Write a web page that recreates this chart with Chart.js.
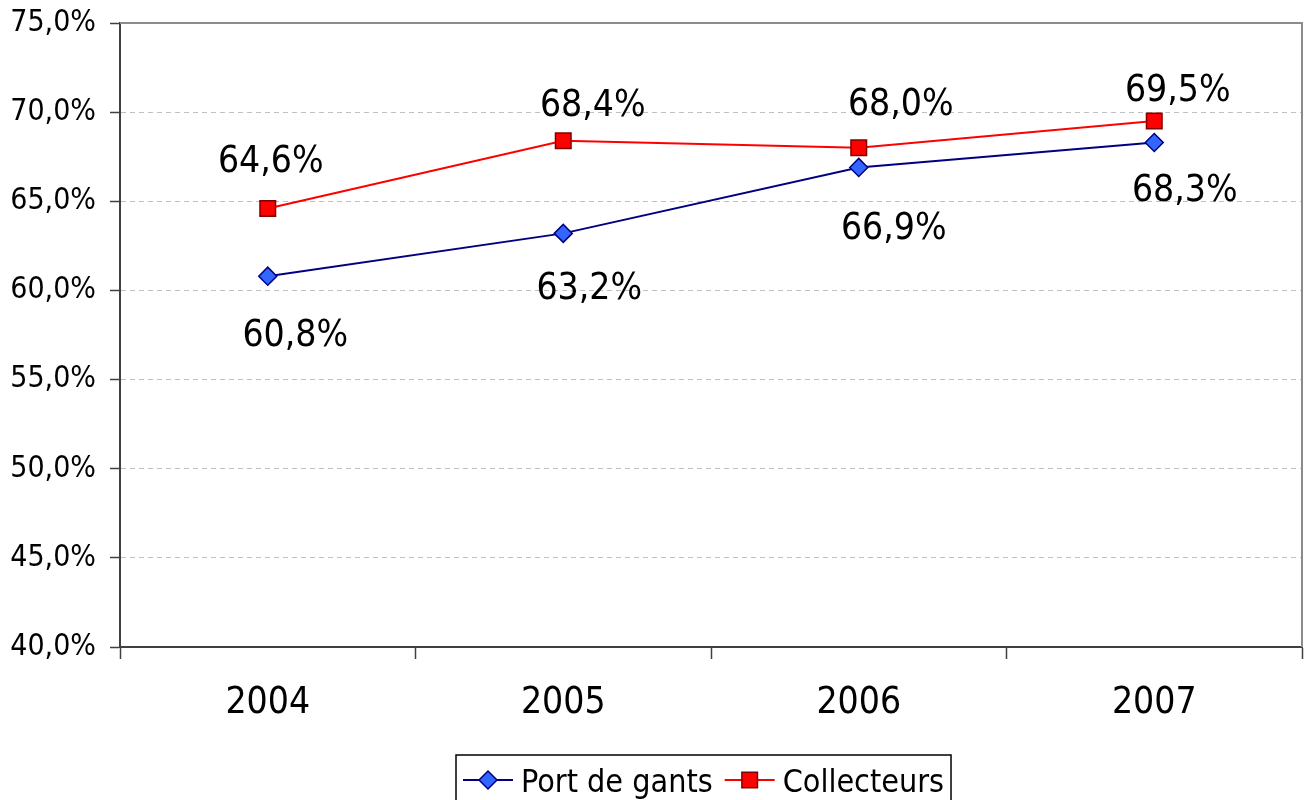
<!DOCTYPE html>
<html>
<head>
<meta charset="utf-8">
<script src="https://cdn.jsdelivr.net/npm/chart.js@4/dist/chart.umd.min.js"></script>
<style>
  html, body { margin: 0; padding: 0; background: #fff; }
  #wrap { width: 1304px; height: 800px; }
</style>
</head>
<body>
<div id="wrap"><canvas id="c" width="1304" height="800"></canvas></div>
<script>
const years = ['2004', '2005', '2006', '2007'];
const portDeGants = [60.8, 63.2, 66.9, 68.3];
const collecteurs = [64.6, 68.4, 68.0, 69.5];
const yTicks = [40, 45, 50, 55, 60, 65, 70, 75];

const FONT = '"DejaVu Sans Condensed", "DejaVu Sans", sans-serif';
const fmt = v => v.toFixed(1).replace('.', ',') + '%';

// label offsets (px from the point), as the labels were dragged in the original
const labelDx = [[27.5, 26, 35, 30.5], [3, 29.5, 42, 23.5]];
const labelDy = [[56.5, 52.5, 58.5, 45.5], [-50, -38.5, -46.5, -33.5]];

const valueLabels = {
  id: 'valueLabels',
  afterDatasetsDraw(chart) {
    const { ctx } = chart;
    const size = 37;
    ctx.save();
    ctx.font = size + 'px ' + FONT;
    ctx.fillStyle = '#000';
    ctx.textAlign = 'center';
    ctx.textBaseline = 'alphabetic';
    chart.data.datasets.forEach((ds, di) => {
      chart.getDatasetMeta(di).data.forEach((pt, i) => {
        ctx.fillText(fmt(ds.data[i]), pt.x + labelDx[di][i], pt.y + labelDy[di][i] + size * 0.364);
      });
    });
    ctx.restore();
  }
};

// grey frame on top / right of the plot area
const plotFrame = {
  id: 'plotFrame',
  beforeDatasetsDraw(chart) {
    const { ctx, chartArea: a } = chart;
    ctx.save();
    ctx.strokeStyle = '#8c8c8c';
    ctx.lineWidth = 2;
    ctx.beginPath();
    ctx.moveTo(a.left, a.top);
    ctx.lineTo(a.right, a.top);
    ctx.lineTo(a.right, a.bottom);
    ctx.stroke();
    ctx.restore();
  }
};

// excel-like legend: line + marker, boxed
const boxedLegend = {
  id: 'boxedLegend',
  afterDraw(chart) {
    const { ctx } = chart;
    ctx.save();
    ctx.font = '32px ' + FONT;
    const lineW = 50, gapText = 8, gapItem = 12, padX = 7;
    const items = chart.data.datasets.map(ds => ({ ds, w: ctx.measureText(ds.label).width }));
    const total = padX * 2 + items.reduce((a, it) => a + lineW + gapText + it.w, 0) + gapItem * (items.length - 1);
    const left = 456, top = 755, h = 50, cy = 780;
    ctx.fillStyle = '#fff';
    ctx.fillRect(left, top, total, h);
    ctx.strokeStyle = '#000';
    ctx.lineWidth = 1.5;
    ctx.strokeRect(left, top, total, h);
    let x = left + padX;
    items.forEach(({ ds, w }) => {
      ctx.strokeStyle = ds.borderColor;
      ctx.lineWidth = 2;
      ctx.beginPath();
      ctx.moveTo(x, cy);
      ctx.lineTo(x + lineW, cy);
      ctx.stroke();
      ctx.fillStyle = ds.pointBackgroundColor;
      ctx.strokeStyle = ds.pointBorderColor;
      ctx.lineWidth = ds.pointBorderWidth;
      Chart.helpers.drawPoint(ctx, { pointStyle: ds.pointStyle, radius: ds.pointRadius, rotation: 0, borderWidth: ds.pointBorderWidth }, x + lineW / 2, cy);
      ctx.fillStyle = '#000';
      ctx.textAlign = 'left';
      ctx.textBaseline = 'alphabetic';
      ctx.fillText(ds.label, x + lineW + gapText, cy + 32 * 0.364);
      x += lineW + gapText + w + gapItem;
    });
    ctx.restore();
  }
};

new Chart(document.getElementById('c'), {
  type: 'line',
  data: {
    labels: years,
    datasets: [
      {
        label: 'Port de gants',
        data: portDeGants,
        borderColor: '#000080',
        borderWidth: 2,
        pointStyle: 'rectRot',
        pointRadius: 9,
        pointBackgroundColor: '#3366ff',
        pointBorderColor: '#000080',
        pointBorderWidth: 1.5,
        tension: 0,
      },
      {
        label: 'Collecteurs',
        data: collecteurs,
        borderColor: '#ff0000',
        borderWidth: 2,
        pointStyle: 'rect',
        pointRadius: 11,
        pointBackgroundColor: '#ff0000',
        pointBorderColor: '#800000',
        pointBorderWidth: 1.5,
        tension: 0,
      }
    ]
  },
  options: {
    responsive: false,
    animation: false,
    layout: { autoPadding: false, padding: { top: 0, right: 2, bottom: 0, left: 0 } },
    plugins: {
      legend: { display: false },
      tooltip: { enabled: false },
    },
    scales: {
      x: {
        offset: true,
        grid: { offset: true, drawOnChartArea: false, drawTicks: true, tickLength: 12, tickColor: '#404040', tickWidth: 1.5 },
        border: { display: true, color: '#404040', width: 2 },
        ticks: { color: '#000', font: { family: FONT, size: 37 }, padding: 22, maxRotation: 0 },
        afterFit: s => { s.height = 153; },
      },
      y: {
        min: 40,
        max: 75,
        afterBuildTicks: s => { s.ticks = yTicks.map(v => ({ value: v })); },
        grid: {
          color: ctx => ctx.tick && ctx.tick.value === 75 ? 'rgba(0,0,0,0)' : '#c0c0c0',
          lineWidth: 1,
          tickLength: 10,
          tickColor: '#404040',
          tickWidth: 1.5,
        },
        border: { display: true, color: '#404040', width: 2, dash: [5, 4] },
        ticks: { color: '#000', font: { family: FONT, size: 30, lineHeight: 1.1 }, padding: 14, callback: v => fmt(v) },
        afterFit: s => { s.width = 120; s.paddingTop = 23; s.paddingBottom = 0; },
      }
    }
  },
  plugins: [plotFrame, valueLabels, boxedLegend]
});
</script>
</body>
</html>
